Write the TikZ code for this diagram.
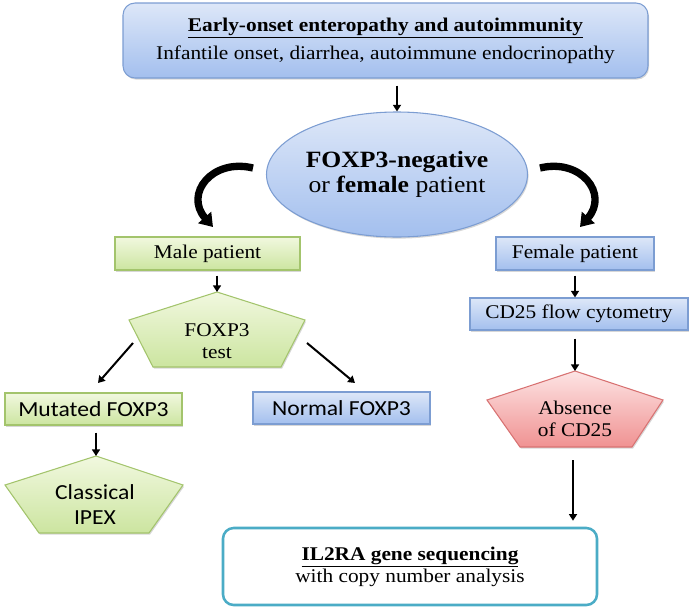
\documentclass[tikz,border=0pt]{standalone}
\usepackage{fontspec}
\setmainfont{Liberation Serif}[FakeStretch=1.1]
\newfontfamily\sansS{Carlito}[FakeStretch=1.1]
\usetikzlibrary{arrows.meta,shadows,shapes.geometric}
\definecolor{bluetop}{HTML}{DDE7F8}
\definecolor{bluebot}{HTML}{A3BFEE}
\definecolor{bluebd}{HTML}{7C9DD2}
\definecolor{greentop}{HTML}{F1F8DF}
\definecolor{greenbot}{HTML}{CCE5A0}
\definecolor{greenbd}{HTML}{A3C46C}
\definecolor{redtop}{HTML}{FDE4E4}
\definecolor{redbot}{HTML}{F09292}
\definecolor{redbd}{HTML}{D87272}
\definecolor{tealbd}{HTML}{4BACC6}
\begin{document}
\begin{tikzpicture}[x=0.75pt,y=-0.75pt,
  shad/.style={drop shadow={shadow xshift=0.8pt,shadow yshift=-1.2pt,opacity=0.35,fill=black!45}},
  bluefill/.style={draw=bluebd,line width=0.8pt,top color=bluetop,bottom color=bluebot},
  greenfill/.style={draw=greenbd,line width=0.8pt,top color=greentop,bottom color=greenbot},
  redfill/.style={draw=redbd,line width=0.8pt,top color=redtop,bottom color=redbot},
  serif/.style={font=\fontsize{14.55}{16.5}\selectfont, align=center},
  sanstxt/.style={font=\sansS\fontsize{16.1}{18.75}\selectfont, align=center},
  box/.style={rectangle, inner sep=0pt},
  arr/.style={-{Triangle[length=5pt,width=6pt]}, line width=1.5pt},
  bigarr/.style={-{Triangle[length=9.5pt,width=12.5pt]}, line width=5.5pt}
]
\useasboundingbox (0,0) rectangle (694,608);

% main boxes
\node[box, bluefill, shad, rounded corners=9pt, minimum width=393.75pt, minimum height=56.25pt, align=center, font=\fontsize{14.55}{21}\selectfont] (top) at (385.5,40.5)
  {\textbf{\underline{Early-onset enteropathy and autoimmunity}}\\Infantile onset, diarrhea, autoimmune endocrinopathy};

\node[ellipse, bluefill, shad, minimum width=195.75pt, minimum height=93.75pt, inner sep=0pt, align=center, font=\fontsize{17.5}{19}\selectfont] (ell) at (397,174.5)
  {\textbf{FOXP3-negative}\\or \textbf{female} patient};

\node[box, greenfill, shad, minimum width=138.75pt, minimum height=24.75pt, serif] (male) at (207.5,253.5) {Male patient};
\node[box, bluefill, shad, minimum width=118.5pt, minimum height=24.75pt, serif] (female) at (575,253.5) {Female patient};
\node[box, bluefill, shad, minimum width=163.5pt, minimum height=24pt, serif] (cd25) at (579,314) {CD25 flow cytometry};
\node[box, greenfill, shad, minimum width=132.75pt, minimum height=24pt, sanstxt] (mut) at (93.5,409) {Mutated FOXP3};
\node[box, bluefill, shad, minimum width=132.75pt, minimum height=24pt, sanstxt] (norm) at (341.5,408) {Normal FOXP3};
\node[box, draw=tealbd, fill=white, line width=1.9pt, rounded corners=8pt, minimum width=280.5pt, minimum height=57.75pt, align=center, font=\fontsize{14.55}{16.5}\selectfont] (il) at (410,566.5)
  {\textbf{\underline{IL2RA gene sequencing}}\\with copy number analysis};

% pentagons
\draw[greenfill, shad] (217,292) coordinate (ftT) -- (305,320) -- (281,367) -- (153,367) -- (129,320) -- cycle;
\node[serif] (ft) at (217,341) {FOXP3\\test};

\draw[redfill, shad] (575,371) coordinate (abT) -- (663,400) -- (632,447) -- (520,447) -- (487,400) -- cycle;
\node[serif] (ab) at (575,419) {Absence\\of CD25};

\draw[greenfill, shad] (96,456) coordinate (ipT) -- (183,485) -- (149,533) -- (39,533) -- (5,485) -- cycle;
\node[sanstxt] (ip) at (95,505) {Classical\\IPEX};

% connector coordinates
\coordinate (ftL) at (133,343);
\coordinate (mutIn) at (98,383);
\coordinate (ftR) at (307,343);
\coordinate (normIn) at (355,383);
\coordinate (abB) at (573,447);

% thin arrows
\draw[arr, shorten <=5.25pt] (top.south -| ell.north) -- (ell.north);
\draw[arr, shorten <=3.75pt] (ftT |- male.south) -- (ftT);
\draw[arr] (ftL) -- (mutIn);
\draw[arr] (ftR) -- (normIn);
\draw[arr, shorten <=5.25pt] (mut.south -| ipT) -- (ipT);
\draw[arr, shorten <=3.75pt] (female.south) -- (female.south |- cd25.north);
\draw[arr, shorten <=6pt] (cd25.south -| abT) -- (abT);
\draw[arr, shorten <=9.75pt, shorten >=4.5pt] (abB) -- (abB |- il.north);

% big curved arrows
\coordinate (la1) at (253,168);
\coordinate (la2) at (213,227);
\coordinate (ra1) at (540,168);
\coordinate (ra2) at (580,227);
\draw[bigarr] (la1) .. controls (212,158) and (184,194) .. (la2);
\draw[bigarr] (ra1) .. controls (581,158) and (609,194) .. (ra2);
\end{tikzpicture}
\end{document}
